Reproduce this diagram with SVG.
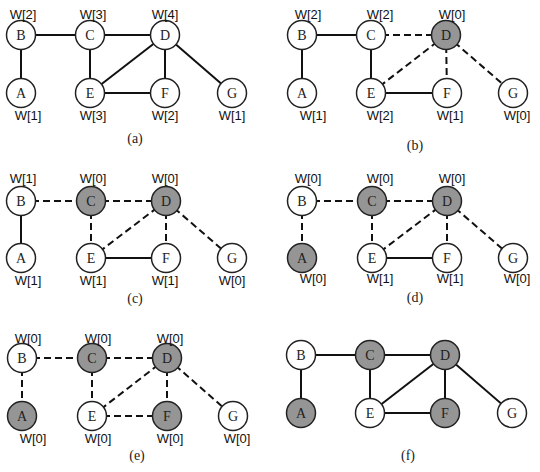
<svg xmlns="http://www.w3.org/2000/svg" width="540" height="472" viewBox="0 0 540 472">
<style>
.e{stroke:#111;stroke-width:2;fill:none}
.d{stroke:#111;stroke-width:2;fill:none;stroke-dasharray:7,4}
.n{fill:#fff;stroke:#222;stroke-width:1.5}
.g{fill:#959595;stroke:#222;stroke-width:1.5}
.t{font-family:"Liberation Serif",serif;font-size:14px;text-anchor:middle;fill:#222}
.w{font-family:"Liberation Sans",Arial,sans-serif;font-size:13px;text-anchor:middle;fill:#111}
.c{font-family:"Liberation Serif",serif;font-size:14px;text-anchor:middle;fill:#222}
</style>
<rect width="540" height="472" fill="#fff"/>

<!-- Panel (a) -->
<g id="panel-a">
<g id="a-connectors">
<line class="e" x1="21" y1="35" x2="90" y2="35"/>
<line class="e" x1="90" y1="35" x2="165" y2="35"/>
<line class="e" x1="21" y1="35" x2="21" y2="93"/>
<line class="e" x1="90" y1="35" x2="90" y2="93"/>
<line class="e" x1="165" y1="35" x2="90" y2="93"/>
<line class="e" x1="165" y1="35" x2="165" y2="93"/>
<line class="e" x1="165" y1="35" x2="232" y2="93"/>
<line class="e" x1="90" y1="93" x2="165" y2="93"/>
</g>
<g id="a-B"><circle class="n" cx="21" cy="35" r="14.5"/><text class="t" x="21" y="40">B</text><text class="w" x="23" y="18.5">W[2]</text></g>
<g id="a-C"><circle class="n" cx="90" cy="35" r="14.5"/><text class="t" x="90" y="40">C</text><text class="w" x="93" y="18.5">W[3]</text></g>
<g id="a-D"><circle class="n" cx="165" cy="35" r="14.5"/><text class="t" x="165" y="40">D</text><text class="w" x="165" y="18.5">W[4]</text></g>
<g id="a-A"><circle class="n" cx="21" cy="93" r="14.5"/><text class="t" x="21" y="98">A</text><text class="w" x="28" y="119.5">W[1]</text></g>
<g id="a-E"><circle class="n" cx="90" cy="93" r="14.5"/><text class="t" x="90" y="98">E</text><text class="w" x="93" y="119.5">W[3]</text></g>
<g id="a-F"><circle class="n" cx="165" cy="93" r="14.5"/><text class="t" x="165" y="98">F</text><text class="w" x="165" y="119.5">W[2]</text></g>
<g id="a-G"><circle class="n" cx="232" cy="93" r="14.5"/><text class="t" x="232" y="98">G</text><text class="w" x="232" y="119.5">W[1]</text></g>
<text class="c" x="135" y="143">(a)</text>
</g>

<!-- Panel (b) -->
<g id="panel-b">
<g id="b-connectors">
<line class="e" x1="302" y1="35" x2="371" y2="35"/>
<line class="d" x1="371" y1="35" x2="446" y2="35"/>
<line class="e" x1="302" y1="35" x2="302" y2="93"/>
<line class="e" x1="371" y1="35" x2="371" y2="93"/>
<line class="d" x1="446" y1="35" x2="371" y2="93"/>
<line class="d" x1="446" y1="35" x2="447" y2="93"/>
<line class="d" x1="446" y1="35" x2="513" y2="93"/>
<line class="e" x1="371" y1="93" x2="447" y2="93"/>
</g>
<g id="b-B"><circle class="n" cx="302" cy="35" r="14.5"/><text class="t" x="302" y="40">B</text><text class="w" x="308" y="18.5">W[2]</text></g>
<g id="b-C"><circle class="n" cx="371" cy="35" r="14.5"/><text class="t" x="371" y="40">C</text><text class="w" x="380" y="18.5">W[2]</text></g>
<g id="b-D"><circle class="g" cx="446" cy="35" r="14.5"/><text class="t" x="446" y="40">D</text><text class="w" x="452" y="18.5">W[0]</text></g>
<g id="b-A"><circle class="n" cx="302" cy="93" r="14.5"/><text class="t" x="302" y="98">A</text><text class="w" x="313" y="119.5">W[1]</text></g>
<g id="b-E"><circle class="n" cx="371" cy="93" r="14.5"/><text class="t" x="371" y="98">E</text><text class="w" x="380" y="119.5">W[2]</text></g>
<g id="b-F"><circle class="n" cx="447" cy="93" r="14.5"/><text class="t" x="447" y="98">F</text><text class="w" x="450" y="119.5">W[1]</text></g>
<g id="b-G"><circle class="n" cx="513" cy="93" r="14.5"/><text class="t" x="513" y="98">G</text><text class="w" x="517" y="119.5">W[0]</text></g>
<text class="c" x="415" y="150">(b)</text>
</g>

<!-- Panel (c) -->
<g id="panel-c">
<g id="c-connectors">
<line class="d" x1="21" y1="201" x2="91" y2="201"/>
<line class="d" x1="91" y1="201" x2="166" y2="201"/>
<line class="e" x1="21" y1="201" x2="21" y2="258"/>
<line class="d" x1="91" y1="201" x2="91" y2="258"/>
<line class="d" x1="166" y1="201" x2="91" y2="258"/>
<line class="d" x1="166" y1="201" x2="166" y2="258"/>
<line class="d" x1="166" y1="201" x2="232" y2="258"/>
<line class="e" x1="91" y1="258" x2="166" y2="258"/>
</g>
<g id="c-B"><circle class="n" cx="21" cy="201" r="14.5"/><text class="t" x="21" y="206">B</text><text class="w" x="23" y="182.5">W[1]</text></g>
<g id="c-C"><circle class="g" cx="91" cy="201" r="14.5"/><text class="t" x="91" y="206">C</text><text class="w" x="93" y="182.5">W[0]</text></g>
<g id="c-D"><circle class="g" cx="166" cy="201" r="14.5"/><text class="t" x="166" y="206">D</text><text class="w" x="165" y="182.5">W[0]</text></g>
<g id="c-A"><circle class="n" cx="21" cy="258" r="14.5"/><text class="t" x="21" y="263">A</text><text class="w" x="28" y="284.5">W[1]</text></g>
<g id="c-E"><circle class="n" cx="91" cy="258" r="14.5"/><text class="t" x="91" y="263">E</text><text class="w" x="93" y="284.5">W[1]</text></g>
<g id="c-F"><circle class="n" cx="166" cy="258" r="14.5"/><text class="t" x="166" y="263">F</text><text class="w" x="165" y="284.5">W[1]</text></g>
<g id="c-G"><circle class="n" cx="232" cy="258" r="14.5"/><text class="t" x="232" y="263">G</text><text class="w" x="232" y="284.5">W[0]</text></g>
<text class="c" x="135" y="303">(c)</text>
</g>

<!-- Panel (d) -->
<g id="panel-d">
<g id="d-connectors">
<line class="d" x1="302" y1="201" x2="372" y2="201"/>
<line class="d" x1="372" y1="201" x2="447" y2="201"/>
<line class="d" x1="302" y1="201" x2="302" y2="258"/>
<line class="d" x1="372" y1="201" x2="372" y2="258"/>
<line class="d" x1="447" y1="201" x2="372" y2="258"/>
<line class="d" x1="447" y1="201" x2="447" y2="258"/>
<line class="d" x1="447" y1="201" x2="513" y2="258"/>
<line class="e" x1="372" y1="258" x2="447" y2="258"/>
</g>
<g id="d-B"><circle class="n" cx="302" cy="201" r="14.5"/><text class="t" x="302" y="206">B</text><text class="w" x="308" y="182.5">W[0]</text></g>
<g id="d-C"><circle class="g" cx="372" cy="201" r="14.5"/><text class="t" x="372" y="206">C</text><text class="w" x="380" y="182.5">W[0]</text></g>
<g id="d-D"><circle class="g" cx="447" cy="201" r="14.5"/><text class="t" x="447" y="206">D</text><text class="w" x="452" y="182.5">W[0]</text></g>
<g id="d-A"><circle class="g" cx="302" cy="258" r="14.5"/><text class="t" x="302" y="263">A</text><text class="w" x="313" y="282.5">W[0]</text></g>
<g id="d-E"><circle class="n" cx="372" cy="258" r="14.5"/><text class="t" x="372" y="263">E</text><text class="w" x="380" y="282.5">W[1]</text></g>
<g id="d-F"><circle class="n" cx="447" cy="258" r="14.5"/><text class="t" x="447" y="263">F</text><text class="w" x="450" y="282.5">W[1]</text></g>
<g id="d-G"><circle class="n" cx="513" cy="258" r="14.5"/><text class="t" x="513" y="263">G</text><text class="w" x="517" y="282.5">W[0]</text></g>
<text class="c" x="415" y="302">(d)</text>
</g>

<!-- Panel (e) -->
<g id="panel-e">
<g id="e-connectors">
<line class="d" x1="22" y1="358" x2="92" y2="358"/>
<line class="d" x1="92" y1="358" x2="167" y2="358"/>
<line class="d" x1="22" y1="358" x2="22" y2="416"/>
<line class="d" x1="92" y1="358" x2="92" y2="416"/>
<line class="d" x1="167" y1="358" x2="92" y2="416"/>
<line class="d" x1="167" y1="358" x2="167" y2="416"/>
<line class="d" x1="167" y1="358" x2="233" y2="416"/>
<line class="d" x1="92" y1="416" x2="167" y2="416"/>
</g>
<g id="e-B"><circle class="n" cx="22" cy="358" r="14.5"/><text class="t" x="22" y="363">B</text><text class="w" x="28" y="342.5">W[0]</text></g>
<g id="e-C"><circle class="g" cx="92" cy="358" r="14.5"/><text class="t" x="92" y="363">C</text><text class="w" x="98" y="342.5">W[0]</text></g>
<g id="e-D"><circle class="g" cx="167" cy="358" r="14.5"/><text class="t" x="167" y="363">D</text><text class="w" x="170" y="342.5">W[0]</text></g>
<g id="e-A"><circle class="g" cx="22" cy="416" r="14.5"/><text class="t" x="22" y="421">A</text><text class="w" x="33" y="442.5">W[0]</text></g>
<g id="e-E"><circle class="n" cx="92" cy="416" r="14.5"/><text class="t" x="92" y="421">E</text><text class="w" x="98" y="442.5">W[0]</text></g>
<g id="e-F"><circle class="g" cx="167" cy="416" r="14.5"/><text class="t" x="167" y="421">F</text><text class="w" x="170" y="442.5">W[0]</text></g>
<g id="e-G"><circle class="n" cx="233" cy="416" r="14.5"/><text class="t" x="233" y="421">G</text><text class="w" x="237" y="442.5">W[0]</text></g>
<text class="c" x="137" y="460">(e)</text>
</g>

<!-- Panel (f) -->
<g id="panel-f">
<g id="f-connectors">
<line class="e" x1="301" y1="355" x2="370" y2="355"/>
<line class="e" x1="370" y1="355" x2="445" y2="355"/>
<line class="e" x1="301" y1="355" x2="301" y2="413"/>
<line class="e" x1="370" y1="355" x2="370" y2="413"/>
<line class="e" x1="445" y1="355" x2="370" y2="413"/>
<line class="e" x1="445" y1="355" x2="445" y2="413"/>
<line class="e" x1="445" y1="355" x2="512" y2="413"/>
<line class="e" x1="370" y1="413" x2="445" y2="413"/>
</g>
<g id="f-B"><circle class="n" cx="301" cy="355" r="14.5"/><text class="t" x="301" y="360">B</text></g>
<g id="f-C"><circle class="g" cx="370" cy="355" r="14.5"/><text class="t" x="370" y="360">C</text></g>
<g id="f-D"><circle class="g" cx="445" cy="355" r="14.5"/><text class="t" x="445" y="360">D</text></g>
<g id="f-A"><circle class="g" cx="301" cy="413" r="14.5"/><text class="t" x="301" y="418">A</text></g>
<g id="f-E"><circle class="n" cx="370" cy="413" r="14.5"/><text class="t" x="370" y="418">E</text></g>
<g id="f-F"><circle class="g" cx="445" cy="413" r="14.5"/><text class="t" x="445" y="418">F</text></g>
<g id="f-G"><circle class="n" cx="512" cy="413" r="14.5"/><text class="t" x="512" y="418">G</text></g>
<text class="c" x="408" y="460">(f)</text>
</g>
</svg>
